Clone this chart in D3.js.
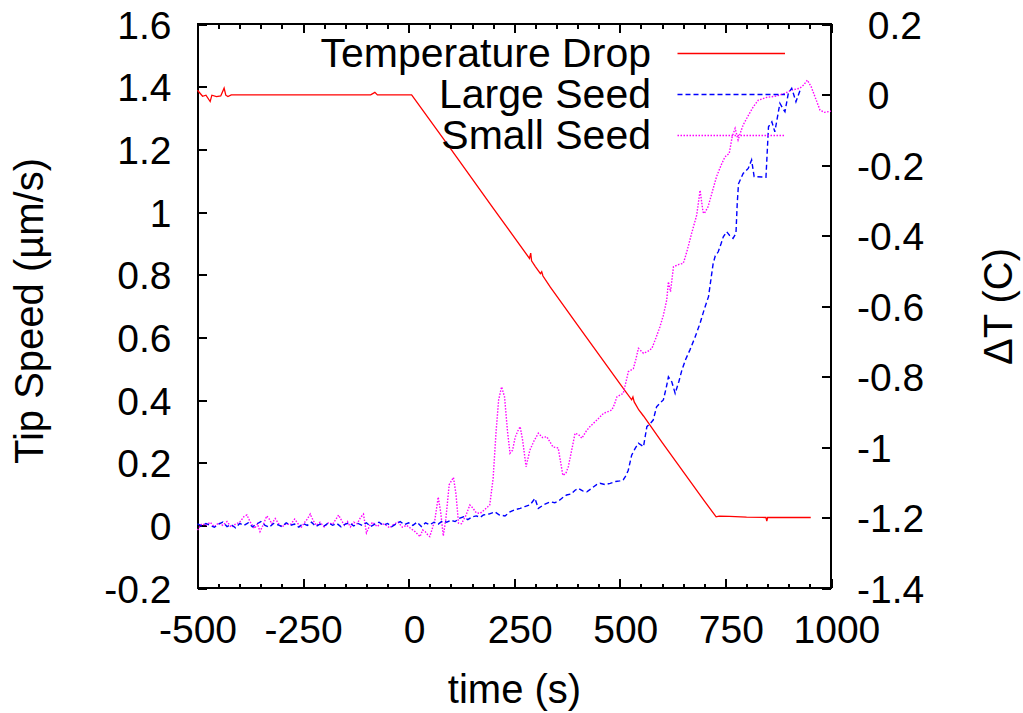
<!DOCTYPE html>
<meta charset="utf-8">
<head>
    <title>Tip speed and temperature drop</title>
    <style>
        body {
            margin: 0;
            background-color: #ffffff;
        }
        svg {
            display: block;
            font-family: "Liberation Sans", Arial, sans-serif;
        }
        .axis path {
            display: none;
        }
        .axis line {
            stroke: #000;
            stroke-width: 2px;
            shape-rendering: crispEdges;
        }
        .axis text {
            font-size: 39px;
            fill: #000;
        }
        .title {
            font-size: 40px;
            fill: #000;
        }
        .legend text {
            font-size: 41px;
            fill: #000;
        }
        .curve {
            fill: none;
        }
    </style>
</head>
<body>
<svg width="1023" height="713"></svg>
<script src="https://cdnjs.cloudflare.com/ajax/libs/d3/7.8.5/d3.min.js"></script>
<script>
    // time ticks and value ticks
    var timeTicks = [-500, -250, 0, 250, 500, 750, 1000];
    var speedTicks = [-0.2, 0, 0.2, 0.4, 0.6, 0.8, 1, 1.2, 1.4, 1.6];
    var deltaTicks = [-1.4, -1.2, -1, -0.8, -0.6, -0.4, -0.2, 0, 0.2];

    var seriesNames = ["Temperature Drop", "Large Seed", "Small Seed"];

    // Temperature drop (right axis, C)
    var tempTime = [-500, -495, -488, -480, -470, -466, -455, -445, -437, -433, -428, -420, -300, -90, -80, -74, 0, 7,
        100, 200, 286, 289, 291, 300, 312, 315, 318, 335, 400, 500, 528, 531, 534, 545, 556, 600, 700, 728,
        735, 760, 800, 846, 848, 850, 900, 952];
    var tempDrop = [0.012, 0.005, -0.005, -0.002, -0.02, -0.002, -0.006, -0.004, 0.018, -0.002, -0.006, -0.001, -0.001, -0.001, 0.006, -0.001, -0.001, -0.001,
        -0.155, -0.322, -0.465, -0.45, -0.472, -0.488, -0.508, -0.503, -0.515, -0.546, -0.654, -0.82, -0.866, -0.858, -0.872, -0.895, -0.912, -0.987, -1.153, -1.198,
        -1.196, -1.197, -1.199, -1.2, -1.21, -1.2, -1.2, -1.2];

    // Large seed tip speed (left axis, um/s)
    var largeTime = [-500, -490, -480, -470, -460, -450, -440, -430, -420, -410, -400, -390, -380, -370, -360, -350, -340, -330, -320, -310,
        -300, -290, -280, -270, -260, -250, -240, -230, -220, -210, -200, -190, -180, -170, -160, -150, -140, -130, -120, -110,
        -100, -90, -80, -70, -60, -50, -40, -30, -20, -10, 0, 10, 20, 30, 40, 50, 60, 70, 80, 90,
        100, 110, 120, 130, 140, 150, 160, 170, 177, 190, 204, 215, 228, 240, 252, 264, 275, 288, 299, 307,
        320, 335, 346, 358, 366, 374, 385, 394, 402, 412, 422, 435, 445, 453, 465, 477, 490, 500, 508, 515,
        520, 528, 536, 544, 556, 564, 572, 579, 587, 595, 603, 610, 615, 623, 631, 640, 647, 656, 666, 678,
        690, 700, 710, 721, 726, 733, 740, 745, 753, 760, 768, 775, 778, 781, 792, 804, 812, 818, 846, 852,
        860, 867, 879, 886, 891, 899, 907, 917, 927, 931];
    var largeSpeed = [0.005, -0.002, 0.006, 0, -0.006, 0.004, 0.01, -0.004, 0.002, -0.008, 0.006, 0, 0.008, -0.005, 0.004, 0.012, 0, -0.006, 0.006, 0.002,
        -0.004, 0.008, 0, 0.004, -0.006, 0.006, 0, 0.01, -0.004, 0.004, -0.002, 0.008, 0, 0.006, -0.005, 0.004, 0.008, -0.002, 0.006, 0,
        0.008, -0.004, 0.004, 0.01, 0, 0.006, -0.004, 0.004, 0.012, 0.002, 0.008, 0, 0.01, -0.004, 0.008, 0.002, 0.01, 0.004, 0.014, 0.01,
        0.016, 0.012, 0.022, 0.027, 0.018, 0.027, 0.03, 0.026, 0.033, 0.036, 0.043, 0.033, 0.03, 0.043, 0.05, 0.054, 0.06, 0.066, 0.086, 0.054,
        0.066, 0.075, 0.072, 0.081, 0.09, 0.097, 0.1, 0.112, 0.118, 0.11, 0.107, 0.12, 0.13, 0.134, 0.13, 0.134, 0.14, 0.142, 0.145, 0.16,
        0.176, 0.224, 0.245, 0.262, 0.251, 0.315, 0.325, 0.336, 0.378, 0.39, 0.4, 0.44, 0.474, 0.458, 0.421, 0.46, 0.496, 0.53, 0.56, 0.6,
        0.645, 0.69, 0.73, 0.836, 0.86, 0.873, 0.9, 0.921, 0.937, 0.925, 0.916, 0.932, 1.028, 1.09, 1.123, 1.139, 1.166, 1.113, 1.111, 1.272,
        1.288, 1.256, 1.347, 1.33, 1.32, 1.379, 1.395, 1.352, 1.389, 1.39];

    // Small seed tip speed (left axis, um/s)
    var smallTime = [-500, -490, -480, -470, -460, -450, -440, -430, -420, -410, -400, -390, -383, -375, -365, -358, -352, -345, -336, -330,
        -324, -316, -308, -300, -290, -280, -270, -262, -255, -246, -240, -233, -226, -218, -210, -200, -190, -180, -172, -166,
        -160, -152, -145, -138, -130, -122, -114, -107, -100, -92, -85, -75, -65, -55, -45, -35, -25, -15, -5, 5,
        15, 27, 33, 39, 45, 50, 56, 62, 70, 76, 82, 88, 96, 106, 112, 118, 125, 135, 145, 152,
        160, 169, 180, 192, 200, 207, 213, 220, 227, 234, 240, 246, 252, 258, 264, 270, 278, 287, 297, 307,
        317, 327, 335, 342, 354, 360, 365, 372, 378, 386, 394, 402, 410, 420, 429, 445, 461, 481, 487, 493,
        508, 515, 520, 532, 538, 544, 556, 566, 576, 586, 595, 603, 611, 615, 620, 627, 640, 650, 654, 660,
        670, 682, 690, 697, 700, 709, 720, 729, 740, 749, 759, 766, 773, 780, 786, 792, 805, 816, 828, 848,
        871, 891, 907, 926, 935, 944, 953, 962, 974, 985, 1000];
    var smallSpeed = [-0.015, 0.005, 0, 0.01, -0.005, 0.008, 0, 0.012, -0.006, 0.004, 0.01, 0.028, 0.033, 0.01, -0.01, 0.005, -0.02, 0, 0.03, 0.02,
        0.005, 0.022, 0.005, -0.005, 0.005, 0.002, 0.02, 0.005, -0.008, 0.01, 0.02, 0.036, 0.015, 0, 0.01, -0.005, 0.008, 0.004, 0.02, 0.033,
        0.018, 0, 0.012, -0.005, 0.01, 0.005, 0.025, 0.036, -0.024, 0, 0.01, -0.004, 0.006, 0.002, -0.008, 0.004, 0.01, -0.006, 0, -0.01,
        -0.02, -0.036, -0.015, -0.02, -0.03, -0.036, -0.01, 0.017, 0.09, 0.04, -0.034, 0.02, 0.13, 0.153, 0.1, 0.007, 0.005, 0.03, 0.065, 0.055,
        0.04, 0.038, 0.05, 0.065, 0.15, 0.3, 0.4, 0.442, 0.41, 0.3, 0.23, 0.24, 0.28, 0.3, 0.315, 0.27, 0.187, 0.24, 0.27, 0.294,
        0.28, 0.283, 0.265, 0.25, 0.247, 0.2, 0.16, 0.165, 0.187, 0.24, 0.294, 0.29, 0.278, 0.3, 0.315, 0.335, 0.357, 0.368, 0.385, 0.41,
        0.421, 0.46, 0.49, 0.5, 0.53, 0.565, 0.549, 0.555, 0.565, 0.6, 0.634, 0.67, 0.719, 0.777, 0.746, 0.825, 0.833, 0.836, 0.852, 0.88,
        0.932, 0.99, 1.069, 1.0, 0.995, 1.017, 1.07, 1.113, 1.15, 1.176, 1.187, 1.24, 1.267, 1.23, 1.255, 1.278, 1.31, 1.336, 1.357, 1.366,
        1.37, 1.379, 1.389, 1.395, 1.405, 1.421, 1.4, 1.368, 1.325, 1.318, 1.322];

    var svg = d3.select("svg"),
        margin = {top: 24, right: 192, bottom: 125, left: 197.5},
        width = +svg.attr("width") - margin.left - margin.right,
        height = +svg.attr("height") - margin.top - margin.bottom;

    svg.append("rect").attr("width", 1023).attr("height", 713).attr("fill", "#fff");

    var x = d3.scaleLinear().domain([-500, 1000]).range([0, width]);
    var yL = d3.scaleLinear().domain([-0.2, 1.6]).range([height, 0]);
    var yR = d3.scaleLinear().domain([-1.4, 0.2]).range([height, 0]);

    var g = svg.append("g")
        .attr("transform", "translate(" + margin.left + "," + margin.top + ")");

    function num(d) { return String(Math.round(d * 10) / 10); }
    // gnuplot puts a blank where the minus sign would go
    function padded(d) { return (d < 0 ? "" : "\u00a0") + num(d); }

    var minorTimes = d3.range(-500, 1001, 50).filter(function(d) { return timeTicks.indexOf(d) < 0; });

    // bottom axis
    g.append("g")
        .attr("class", "x axis")
        .attr("transform", "translate(0," + height + ")")
        .call(d3.axisBottom(x).tickValues(timeTicks).tickSizeInner(-9).tickSizeOuter(0).tickPadding(27).tickFormat(padded));
    g.append("g")
        .attr("class", "x axis")
        .attr("transform", "translate(0," + height + ")")
        .call(d3.axisBottom(x).tickValues(minorTimes).tickSizeInner(-4.5).tickSizeOuter(0).tickFormat(""));

    // top mirror ticks
    g.append("g")
        .attr("class", "x axis")
        .call(d3.axisTop(x).tickValues(timeTicks).tickSizeInner(-9).tickSizeOuter(0).tickFormat(""));
    g.append("g")
        .attr("class", "x axis")
        .call(d3.axisTop(x).tickValues(minorTimes).tickSizeInner(-4.5).tickSizeOuter(0).tickFormat(""));

    // left axis
    g.append("g")
        .attr("class", "y axis")
        .call(d3.axisLeft(yL).tickValues(speedTicks).tickSizeInner(-9).tickSizeOuter(0).tickPadding(26).tickFormat(num))
        .selectAll("text").attr("dy", "0.36em");

    // right axis
    g.append("g")
        .attr("class", "y axis")
        .attr("transform", "translate(" + width + ",0)")
        .call(d3.axisRight(yR).tickValues(deltaTicks).tickSizeInner(-9).tickSizeOuter(0).tickPadding(26).tickFormat(padded))
        .selectAll("text").attr("dy", "0.36em");

    // frame
    g.append("rect")
        .attr("width", width)
        .attr("height", height)
        .attr("fill", "none")
        .attr("stroke", "#000")
        .attr("stroke-width", 2)
        .attr("shape-rendering", "crispEdges");

    var lineL = d3.line()
        .x(function(d) { return x(d[0]); })
        .y(function(d) { return yL(d[1]); });
    var lineR = d3.line()
        .x(function(d) { return x(d[0]); })
        .y(function(d) { return yR(d[1]); });

    var styles = [
        {color: "#ff0000", dash: null, width: 1.3},
        {color: "#0000ff", dash: "5,3", width: 1.4},
        {color: "#ff00ff", dash: "1.5,1.5", width: 1.4}
    ];

    g.append("path")
        .attr("class", "curve")
        .attr("d", lineR(d3.zip(tempTime, tempDrop)))
        .attr("stroke", styles[0].color)
        .attr("stroke-width", styles[0].width);

    g.append("path")
        .attr("class", "curve")
        .attr("d", lineL(d3.zip(smallTime, smallSpeed)))
        .attr("stroke", styles[2].color)
        .attr("stroke-width", styles[2].width)
        .attr("stroke-dasharray", styles[2].dash);

    g.append("path")
        .attr("class", "curve")
        .attr("d", lineL(d3.zip(largeTime, largeSpeed)))
        .attr("stroke", styles[1].color)
        .attr("stroke-width", styles[1].width)
        .attr("stroke-dasharray", styles[1].dash);

    // legend, top right inside the frame
    var legend = svg.append("g").attr("class", "legend");
    seriesNames.forEach(function(name, i) {
        var yy = 53.5 + i * 41;
        legend.append("text")
            .attr("x", 651)
            .attr("y", yy + 13.5)
            .attr("text-anchor", "end")
            .text(name);
        legend.append("line")
            .attr("x1", 677.5)
            .attr("x2", 785)
            .attr("y1", yy)
            .attr("y2", yy)
            .attr("stroke", styles[i].color)
            .attr("stroke-width", styles[i].width)
            .attr("stroke-dasharray", styles[i].dash);
    });

    // axis titles
    svg.append("text")
        .attr("class", "title")
        .attr("x", 514.5)
        .attr("y", 703)
        .attr("text-anchor", "middle")
        .text("time (s)");

    svg.append("text")
        .attr("class", "title")
        .attr("transform", "translate(43,311) rotate(-90)")
        .attr("text-anchor", "middle")
        .text("Tip Speed (\u00b5m/s)");

    svg.append("text")
        .attr("class", "title")
        .attr("transform", "translate(1012,306.5) rotate(-90)")
        .attr("text-anchor", "middle")
        .text("\u0394T (C)");
</script>
</body>
